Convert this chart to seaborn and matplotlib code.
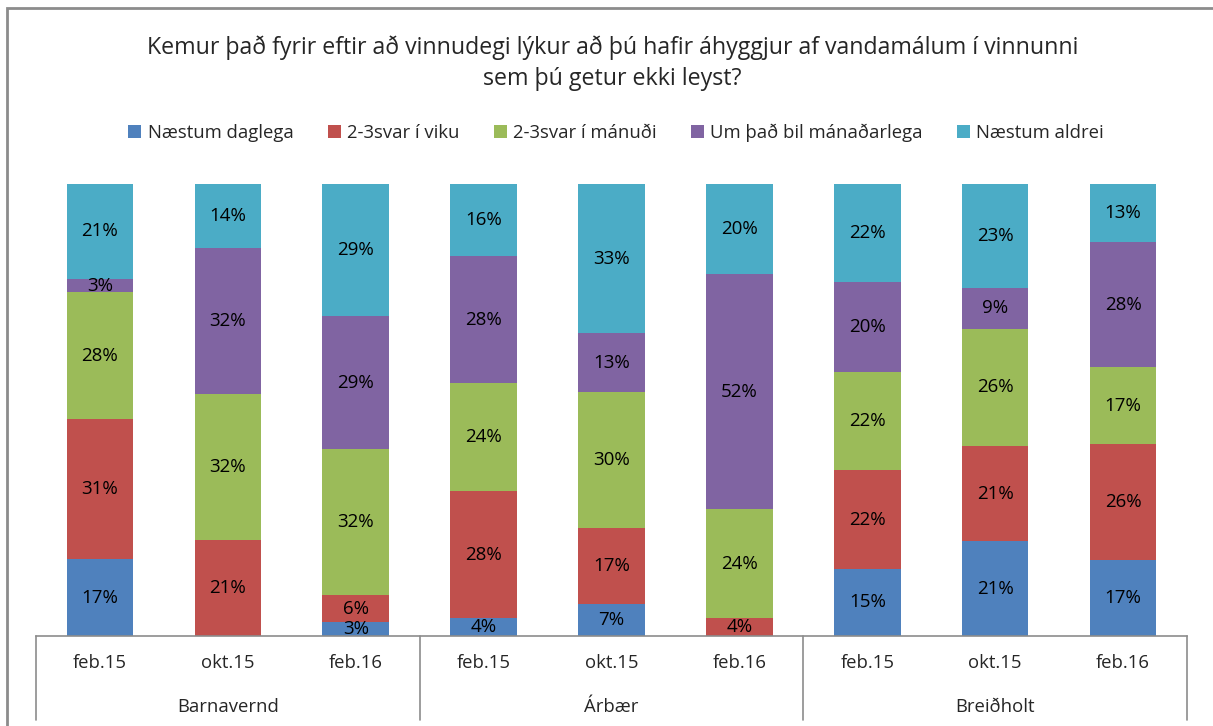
import matplotlib
matplotlib.use("Agg")
import matplotlib.pyplot as plt
import matplotlib.transforms as mtransforms
from matplotlib.patches import Patch, Rectangle
import seaborn as sns
import pandas as pd
import numpy as np

# Gögn
hopar = ["Barnavernd", "Árbær", "Breiðholt"]
timabil = ["feb.15", "okt.15", "feb.16"]
flokkar = ["Næstum daglega", "2-3svar í viku", "2-3svar í mánuði",
           "Um það bil mánaðarlega", "Næstum aldrei"]
litir = ["#4F81BD", "#C0504D", "#9BBB59", "#8064A2", "#4BACC6"]

naestum_daglega = [17, 0, 3, 4, 7, 0, 15, 21, 17]
svar_viku = [31, 21, 6, 28, 17, 4, 22, 21, 26]
svar_manudi = [28, 32, 32, 24, 30, 24, 22, 26, 17]
manadarlega = [3, 32, 29, 28, 13, 52, 20, 9, 28]
naestum_aldrei = [21, 14, 29, 16, 33, 20, 22, 23, 13]

gildi = np.array([naestum_daglega, svar_viku, svar_manudi, manadarlega, naestum_aldrei], dtype=float)
hlutfall = gildi / gildi.sum(axis=0) * 100
uppsafnad = np.cumsum(hlutfall, axis=0)
botn = uppsafnad - hlutfall

stadir = [str(i) for i in range(9)]

sns.set_style("white")
plt.rcParams["font.family"] = ["Open Sans", "DejaVu Sans"]

fig = plt.figure(figsize=(12.13, 7.26), dpi=100)
W, H = 1213, 726
ax = fig.add_axes([36 / W, 1 - 636 / H, (1187 - 36) / W, (636 - 184) / H])

# Staflaðar súlur: efsta lagið fyrst, svo niður
for k in range(len(flokkar) - 1, -1, -1):
    df = pd.DataFrame({"x": stadir, "y": uppsafnad[k]})
    sns.barplot(data=df, x="x", y="y", order=stadir, color=litir[k],
                width=0.52, saturation=1, ax=ax, linewidth=0)

# Prósentutölur
for k in range(len(flokkar)):
    for i in range(9):
        if gildi[k, i] > 0:
            ax.text(i, botn[k, i] + hlutfall[k, i] / 2, f"{int(gildi[k, i])}%",
                    ha="center", va="center", fontsize=13.5, color="black")

ax.set_xlim(-0.5, 8.5)
ax.set_ylim(0, 100)
ax.set_xticks([])
ax.set_yticks([])
ax.set_xlabel("")
ax.set_ylabel("")
for s in ["top", "left", "right"]:
    ax.spines[s].set_visible(False)
ax.spines["bottom"].set_color("#8c8c8c")
ax.spines["bottom"].set_linewidth(1.2)

# Flokkaás með hópum
trans = mtransforms.blended_transform_factory(ax.transData, ax.transAxes)
for i in range(9):
    ax.text(i, -0.06, timabil[i % 3], transform=trans, ha="center", va="center",
            fontsize=13.3, clip_on=False)
for g, nafn in enumerate(hopar):
    ax.text(3 * g + 1, -0.157, nafn, transform=trans, ha="center", va="center",
            fontsize=13.3, clip_on=False)
for xs in [-0.5, 2.5, 5.5, 8.5]:
    ax.plot([xs, xs], [0, -0.186], transform=trans, color="#8c8c8c",
            linewidth=1.2, clip_on=False)

fig.text(0.505, 1 - 63 / H, "Kemur það fyrir eftir að vinnudegi lýkur að þú hafir áhyggjur af vandamálum í vinnunni\nsem þú getur ekki leyst?",
         ha="center", va="center", fontsize=16.7, linespacing=1.42)

handles = [Patch(facecolor=c, edgecolor="none") for c in litir]
fig.legend(handles, flokkar, loc="center", bbox_to_anchor=(0.508, 1 - 133 / H),
           ncol=5, frameon=False, fontsize=13.3, handlelength=0.7, handleheight=0.7,
           handletextpad=0.35, columnspacing=1.85)

# Rammi utan um myndina
fig.patches.append(Rectangle((7 / W, -0.1), 1.2, 1 - 8 / H + 0.1, transform=fig.transFigure,
                             fill=False, edgecolor="#8c8c8c", linewidth=2))

fig.savefig("out.png", dpi=100)
